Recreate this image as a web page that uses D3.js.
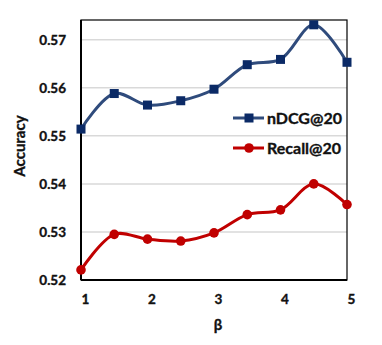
<!DOCTYPE html>
<html><head><meta charset="utf-8">
<script src="https://cdn.jsdelivr.net/npm/d3@7"></script>
<style>body{margin:0;background:#fff}svg{display:block}text{font-family:Lato,"Open Sans",sans-serif;font-weight:bold;fill:#111;stroke:#111;stroke-width:0.35px}</style>
</head><body>
<script>
const betas = [1, 1.5, 2, 2.5, 3, 3.5, 4, 4.5, 5];
const ndcg = [0.5514, 0.5588, 0.5564, 0.5573, 0.5597, 0.5648, 0.5659, 0.5731, 0.5653];
const recall = [0.5221, 0.5295, 0.5285, 0.5281, 0.5298, 0.5336, 0.5346, 0.5400, 0.5357];
const xTicks = [1, 2, 3, 4, 5];
const yTicks = [0.52, 0.53, 0.54, 0.55, 0.56, 0.57];
const seriesNames = ["nDCG@20", "Recall@20"];

const W = 382, H = 345;
const m = {l: 81, r: 35, t: 20, b: 65};
const svg = d3.select("body").append("svg").attr("width", W).attr("height", H);
const x = d3.scaleLinear().domain([1, 5]).range([m.l, W - m.r]);
const y = d3.scaleLinear().domain([0.52, 0.5741]).range([H - m.b, m.t]);

// gridlines
svg.append("g").selectAll("line").data(yTicks.filter(d => d > 0.52)).join("line")
  .attr("x1", m.l).attr("x2", W - m.r).attr("y1", d => y(d)).attr("y2", d => y(d))
  .attr("stroke", "#d9d9d9").attr("stroke-width", 1.5);

// frame
svg.append("rect").attr("x", m.l).attr("y", m.t).attr("width", W - m.r - m.l).attr("height", H - m.b - m.t)
  .attr("fill", "none").attr("stroke", "#000").attr("stroke-width", 1.2);
svg.append("line").attr("x1", m.l).attr("x2", m.l).attr("y1", m.t).attr("y2", H - m.b).attr("stroke", "#000").attr("stroke-width", 2);
svg.append("line").attr("x1", m.l).attr("x2", W - m.r).attr("y1", H - m.b).attr("y2", H - m.b).attr("stroke", "#000").attr("stroke-width", 2);

// axes
const yAxis = svg.append("g").attr("transform", `translate(${m.l},0)`)
  .call(d3.axisLeft(y).tickValues(yTicks).tickFormat(d3.format(".2f")).tickSize(0).tickPadding(15));
yAxis.select(".domain").remove();
yAxis.selectAll("text").style("font-size", "13.5px").attr("dy", "0.35em");

const xAxis = svg.append("g").attr("transform", `translate(4,${H - m.b})`)
  .call(d3.axisBottom(x).tickValues(xTicks).tickFormat(d3.format("d")).tickSize(0).tickPadding(14));
xAxis.select(".domain").remove();
xAxis.selectAll("text").style("font-size", "13.5px");

svg.append("text").attr("x", 218).attr("y", 330).attr("text-anchor", "middle").style("font-size", "15px").text("β");
svg.append("text").attr("transform", "translate(25,146) rotate(-90)").attr("text-anchor", "middle").style("font-size", "15px").text("Accuracy");

const line = d3.line().x((d, i) => x(betas[i])).y(d => y(d)).curve(d3.curveCatmullRom.alpha(0.5));
const cols = [{line: "#2f4b7c", mark: "#0b2a66"}, {line: "#c00000", mark: "#c00000"}];
[ndcg, recall].forEach((s, k) => {
  svg.append("path").datum(s).attr("d", line).attr("fill", "none")
    .attr("stroke", cols[k].line).attr("stroke-width", 3);
  const g = svg.append("g");
  if (k === 0) {
    g.selectAll("rect").data(s).join("rect")
      .attr("x", (d, i) => x(betas[i]) - 4.5).attr("y", d => y(d) - 4.5)
      .attr("width", 9).attr("height", 9).attr("fill", cols[k].mark);
  } else {
    g.selectAll("circle").data(s).join("circle")
      .attr("cx", (d, i) => x(betas[i])).attr("cy", d => y(d)).attr("r", 4.8).attr("fill", cols[k].mark);
  }
});

// legend
const lg = svg.append("g");
[118, 148].forEach((ly, k) => {
  lg.append("line").attr("x1", 233).attr("x2", 264).attr("y1", ly).attr("y2", ly)
    .attr("stroke", cols[k].line).attr("stroke-width", 3);
  if (k === 0) lg.append("rect").attr("x", 244.5).attr("y", ly - 4.5).attr("width", 9).attr("height", 9).attr("fill", cols[k].mark);
  else lg.append("circle").attr("cx", 249).attr("cy", ly).attr("r", 4.8).attr("fill", cols[k].mark);
  lg.append("text").attr("x", 267).attr("y", ly).attr("dy", "0.36em").style("font-size", "16px").text(seriesNames[k]);
});
</script>
</body></html>
